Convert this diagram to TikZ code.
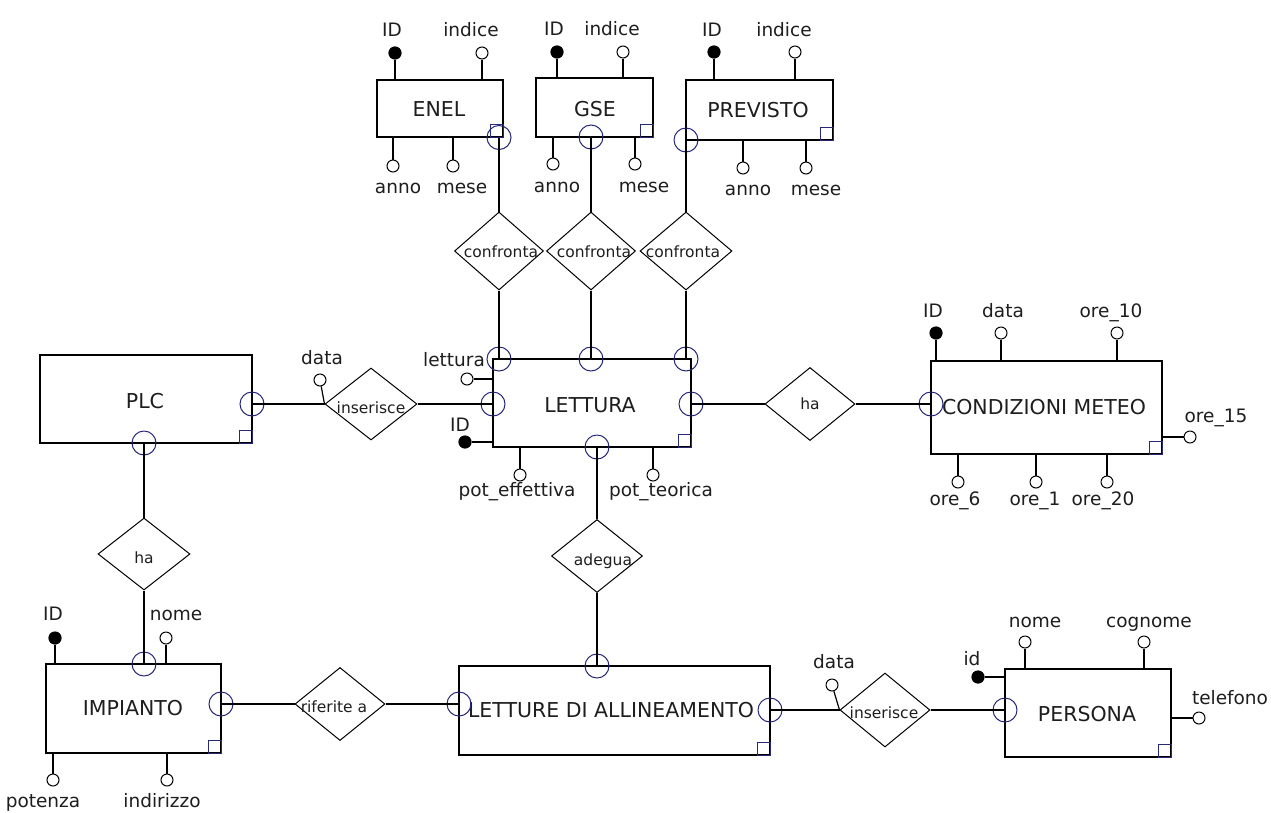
\documentclass[tikz,border=0pt]{standalone}
\usepackage{fontspec}
\setmainfont{DejaVu Sans}
\usetikzlibrary{shapes.geometric}
\definecolor{card}{RGB}{40,40,120}
\definecolor{ink}{RGB}{30,30,30}
\begin{document}
\begin{tikzpicture}[x=1pt,y=-1pt,line width=1.2pt,
 ent/.style={draw, rectangle, inner sep=0pt},
 rel/.style={draw, diamond, inner sep=0pt, line width=1pt},
 reltxt/.style={anchor=base, inner sep=0pt, text=ink, font=\fontsize{15.5}{18}\selectfont},
 atxt/.style={anchor=base, inner sep=0pt, text=ink, font=\fontsize{18.5}{22}\selectfont},
 etxt/.style={anchor=base, inner sep=0pt, text=ink, font=\fontsize{20.5}{24}\selectfont},
 attr/.style={draw, circle, fill=white, inner sep=0pt, minimum size=12pt, line width=1pt},
 key/.style={draw, circle, fill=black, inner sep=0pt, minimum size=12pt},
 mk/.style={draw=card, circle, inner sep=0pt, minimum size=24pt, line width=1pt},
 sq/.style={draw=card, line width=1pt}
]
\useasboundingbox[fill=white] (0,0) rectangle (1271,812);

% entities
\node[ent, minimum width=126pt, minimum height=57pt] (enel) at (440,108.5) {};
\node[ent, minimum width=117pt, minimum height=59pt] (gse) at (594.5,107.5) {};
\node[ent, minimum width=147pt, minimum height=60pt] (prev) at (759.5,110) {};
\node[ent, minimum width=198pt, minimum height=88pt] (let) at (592,403) {};
\node[ent, minimum width=212pt, minimum height=88pt] (plc) at (146,399) {};
\node[ent, minimum width=231pt, minimum height=93pt] (cm) at (1046.5,407.5) {};
\node[ent, minimum width=175pt, minimum height=89pt] (imp) at (133.5,708.5) {};
\node[ent, minimum width=311pt, minimum height=89pt] (lda) at (614.5,710.5) {};
\node[ent, minimum width=166pt, minimum height=88pt] (per) at (1088,713) {};
\foreach \e in {enel,gse,prev,let,plc,cm,imp,lda,per}{
  \draw[sq] (\e.south east) rectangle ++(-13,-13);
}

% entity names
\node[etxt] (t-enel) at (439,116.5) {ENEL};
\node[etxt] (t-gse) at (595,116) {GSE};
\node[etxt] (t-prev) at (758,117) {PREVISTO};
\node[etxt] (t-let) at (590,412) {LETTURA};
\node[etxt] (t-plc) at (145,408) {PLC};
\node[etxt] (t-cm) at (1044,414) {CONDIZIONI METEO};
\node[etxt] (t-imp) at (133,715) {IMPIANTO};
\node[etxt] (t-lda) at (611,717) {LETTURE DI ALLINEAMENTO};
\node[etxt] (t-per) at (1087,721) {PERSONA};

% relationships
\node[rel, minimum width=89pt, minimum height=78pt] (conf1) at (499,251) {};
\node[rel, minimum width=89pt, minimum height=78pt] (conf2) at (591,251) {};
\node[rel, minimum width=92pt, minimum height=78pt] (conf3) at (686,251) {};
\node[rel, minimum width=92pt, minimum height=72pt] (ins1) at (371,404) {};
\node[rel, minimum width=90pt, minimum height=73pt] (ha1) at (810,404) {};
\node[rel, minimum width=92pt, minimum height=72pt] (ha2) at (144,554) {};
\node[rel, minimum width=91pt, minimum height=73pt] (adeg) at (597,556) {};
\node[rel, minimum width=90pt, minimum height=73pt] (rif) at (340,704) {};
\node[rel, minimum width=90pt, minimum height=74pt] (ins2) at (885,710) {};

\node[reltxt] (t-conf1) at (501,257) {confronta};
\node[reltxt] (t-conf2) at (594,257) {confronta};
\node[reltxt] (t-conf3) at (683,257) {confronta};
\node[reltxt] (t-ins1) at (371,413) {inserisce};
\node[reltxt] (t-ha1) at (810,409) {ha};
\node[reltxt] (t-ha2) at (144,563) {ha};
\node[reltxt] (t-adeg) at (603,565) {adegua};
\node[reltxt] (t-rif) at (334,712) {riferite a};
\node[reltxt] (t-ins2) at (884,718) {inserisce};

% cardinality markers
\node[mk] (mEnel) at (499,137.5) {};
\node[mk] (mGse) at (591,137) {};
\node[mk] (mPrev) at (686,140) {};
\node[mk] (mL1) at (499,359) {};
\node[mk] (mL2) at (591,359) {};
\node[mk] (mL3) at (686,359) {};
\node[mk] (mLl) at (493,404) {};
\node[mk] (mLr) at (691,404) {};
\node[mk] (mLb) at (597,447) {};
\node[mk] (mPlcR) at (252,404) {};
\node[mk] (mPlcB) at (144,443) {};
\node[mk] (mCm) at (931,404) {};
\node[mk] (mImpT) at (144,664) {};
\node[mk] (mImpR) at (221,704) {};
\node[mk] (mLdaT) at (597,666) {};
\node[mk] (mLdaL) at (459,704) {};
\node[mk] (mLdaR) at (770,710) {};
\node[mk] (mPer) at (1005,710) {};

% connectors
\draw (mEnel.center) -- (conf1.north);
\draw (conf1.south) -- (mL1.center);
\draw (mGse.center) -- (conf2.north);
\draw (conf2.south) -- (mL2.center);
\draw (mPrev.center) -- (conf3.north);
\draw (conf3.south) -- (mL3.center);
\draw (mPlcR.center) -- (ins1.west);
\draw (ins1.east) -- (mLl.center);
\draw (mLr.center) -- (ha1.west);
\draw (ha1.east) -- (mCm.center);
\draw (mPlcB.center) -- (ha2.north);
\draw (ha2.south) -- (mImpT.center);
\draw (mLb.center) -- (adeg.north);
\draw (adeg.south) -- (mLdaT.center);
\draw (mImpR.center) -- (rif.west);
\draw (rif.east) -- (mLdaL.center);
\draw (mLdaR.center) -- (ins2.west);
\draw (ins2.east) -- (mPer.center);

% attributes ENEL
\node[key] (enel-id) at (395,53) {};
\node[attr] (enel-ind) at (482,53) {};
\node[attr] (enel-anno) at (393,166) {};
\node[attr] (enel-mese) at (453,166) {};
\draw (enel-id) -- (enel-id |- enel.north);
\draw (enel-ind) -- (enel-ind |- enel.north);
\draw (enel-anno) -- (enel-anno |- enel.south);
\draw (enel-mese) -- (enel-mese |- enel.south);
\node[atxt] (l-enel-id) at (392,36.5) {ID};
\node[atxt] (l-enel-ind) at (471,36.5) {indice};
\node[atxt] (l-enel-anno) at (398,193) {anno};
\node[atxt] (l-enel-mese) at (462,193) {mese};

% attributes GSE
\node[key] (gse-id) at (557,52) {};
\node[attr] (gse-ind) at (623,52) {};
\node[attr] (gse-anno) at (553,164) {};
\node[attr] (gse-mese) at (635,164) {};
\draw (gse-id) -- (gse-id |- gse.north);
\draw (gse-ind) -- (gse-ind |- gse.north);
\draw (gse-anno) -- (gse-anno |- gse.south);
\draw (gse-mese) -- (gse-mese |- gse.south);
\node[atxt] (l-gse-id) at (554,35) {ID};
\node[atxt] (l-gse-ind) at (612,35) {indice};
\node[atxt] (l-gse-anno) at (557,192) {anno};
\node[atxt] (l-gse-mese) at (644,192) {mese};

% attributes PREVISTO
\node[key] (prev-id) at (714,52) {};
\node[attr] (prev-ind) at (795,52) {};
\node[attr] (prev-anno) at (743,168) {};
\node[attr] (prev-mese) at (806,168) {};
\draw (prev-id) -- (prev-id |- prev.north);
\draw (prev-ind) -- (prev-ind |- prev.north);
\draw (prev-anno) -- (prev-anno |- prev.south);
\draw (prev-mese) -- (prev-mese |- prev.south);
\node[atxt] (l-prev-id) at (712,36) {ID};
\node[atxt] (l-prev-ind) at (784,36) {indice};
\node[atxt] (l-prev-anno) at (748,195) {anno};
\node[atxt] (l-prev-mese) at (816,195) {mese};

% attributes LETTURA
\node[attr] (let-lt) at (467,379) {};
\node[key] (let-id) at (465,442) {};
\node[attr] (let-pe) at (520,475) {};
\node[attr] (let-pt) at (653,475) {};
\draw (let-lt) -- (let-lt -| let.west);
\draw (let-id) -- (let-id -| let.west);
\draw (let-pe) -- (let-pe |- let.south);
\draw (let-pt) -- (let-pt |- let.south);
\node[atxt] (l-let-lt) at (454,366) {lettura};
\node[atxt] (l-let-id) at (460,431) {ID};
\node[atxt] (l-let-pe) at (517,496) {pot\_effettiva};
\node[atxt] (l-let-pt) at (661,496) {pot\_teorica};

% attribute of inserisce (PLC)
\node[attr] (ins1-data) at (320,380) {};
\draw (ins1-data) -- (ins1.west);
\node[atxt] (l-ins1-data) at (322,364) {data};

% attributes CONDIZIONI METEO
\node[key] (cm-id) at (936,333) {};
\node[attr] (cm-data) at (1001,333) {};
\node[attr] (cm-o10) at (1117,333) {};
\node[attr] (cm-o15) at (1190,437) {};
\node[attr] (cm-o6) at (958,482) {};
\node[attr] (cm-o1) at (1036,482) {};
\node[attr] (cm-o20) at (1107,482) {};
\draw (cm-id) -- (cm-id |- cm.north);
\draw (cm-data) -- (cm-data |- cm.north);
\draw (cm-o10) -- (cm-o10 |- cm.north);
\draw (cm-o15) -- (cm-o15 -| cm.east);
\draw (cm-o6) -- (cm-o6 |- cm.south);
\draw (cm-o1) -- (cm-o1 |- cm.south);
\draw (cm-o20) -- (cm-o20 |- cm.south);
\node[atxt] (l-cm-id) at (933,317) {ID};
\node[atxt] (l-cm-data) at (1003,317) {data};
\node[atxt] (l-cm-o10) at (1111,317) {ore\_10};
\node[atxt] (l-cm-o15) at (1216,422) {ore\_15};
\node[atxt] (l-cm-o6) at (955,505) {ore\_6};
\node[atxt] (l-cm-o1) at (1035,505) {ore\_1};
\node[atxt] (l-cm-o20) at (1103,505) {ore\_20};

% attributes IMPIANTO
\node[key] (imp-id) at (55,638) {};
\node[attr] (imp-nome) at (166,638) {};
\node[attr] (imp-pot) at (53,780) {};
\node[attr] (imp-ind) at (167,780) {};
\draw (imp-id) -- (imp-id |- imp.north);
\draw (imp-nome) -- (imp-nome |- imp.north);
\draw (imp-pot) -- (imp-pot |- imp.south);
\draw (imp-ind) -- (imp-ind |- imp.south);
\node[atxt] (l-imp-id) at (53,620) {ID};
\node[atxt] (l-imp-nome) at (176,620) {nome};
\node[atxt] (l-imp-pot) at (43,807) {potenza};
\node[atxt] (l-imp-ind) at (162,807) {indirizzo};

% attribute of inserisce (PERSONA)
\node[attr] (ins2-data) at (832,685) {};
\draw (ins2-data) -- (ins2.west);
\node[atxt] (l-ins2-data) at (834,668) {data};

% attributes PERSONA
\node[key] (per-id) at (978,677) {};
\node[attr] (per-nome) at (1025,642) {};
\node[attr] (per-cog) at (1144,642) {};
\node[attr] (per-tel) at (1199,718) {};
\draw (per-id) -- (per-id -| per.west);
\draw (per-nome) -- (per-nome |- per.north);
\draw (per-cog) -- (per-cog |- per.north);
\draw (per-tel) -- (per-tel -| per.east);
\node[atxt] (l-per-id) at (972,665) {id};
\node[atxt] (l-per-nome) at (1035,627) {nome};
\node[atxt] (l-per-cog) at (1149,627) {cognome};
\node[atxt] (l-per-tel) at (1230,704) {telefono};
\end{tikzpicture}
\end{document}
